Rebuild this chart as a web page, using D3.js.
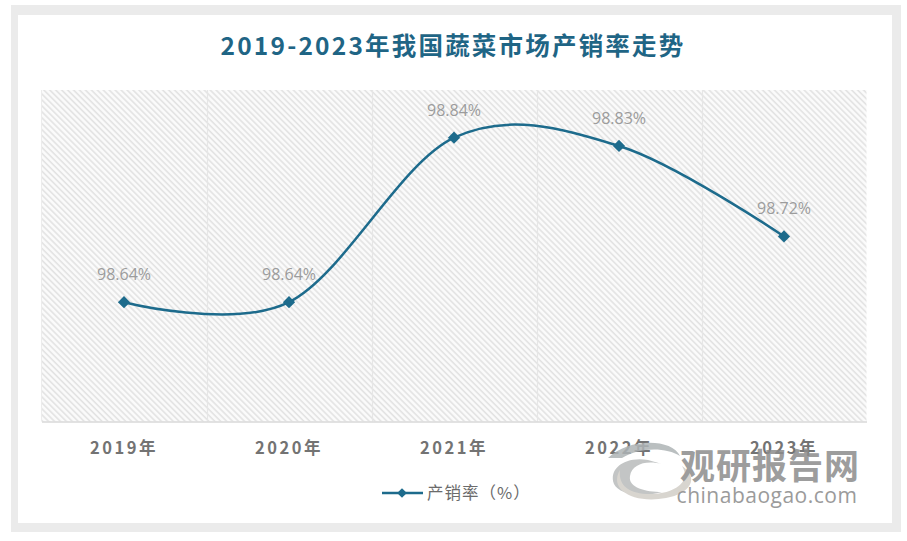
<!DOCTYPE html>
<html><head><meta charset="utf-8">
<script src="https://cdn.jsdelivr.net/npm/d3@7/dist/d3.min.js"></script>
<style>body{margin:0;background:#fff;}svg{display:block;}</style>
</head><body>
<svg id="c" width="907" height="541"></svg>
<script>
const categories = ["2019年","2020年","2021年","2022年","2023年"];
const values = [98.64, 98.64, 98.84, 98.83, 98.72];
const labels = ["98.64%","98.64%","98.84%","98.83%","98.72%"];
const title = "2019-2023年我国蔬菜市场产销率走势";
const seriesName = "产销率（%）";

const svg = d3.select("#c");
const font = "'Noto Sans CJK SC','Noto Sans',sans-serif";
const lineColor = "#1d6b8c";

// frame
svg.append("rect").attr("x",11).attr("y",5).attr("width",890).attr("height",527).attr("fill","#ebebeb");
svg.append("rect").attr("x",18).attr("y",15).attr("width",874).attr("height",508).attr("fill","#ffffff");

const defs = svg.append("defs");
const pat = defs.append("pattern").attr("id","hatch").attr("patternUnits","userSpaceOnUse")
  .attr("width",4.2).attr("height",4.2).attr("patternTransform","rotate(-45)");
pat.append("rect").attr("width",4.2).attr("height",4.2).attr("fill","#fbfbfb");
pat.append("line").attr("x1",1).attr("y1",0).attr("x2",1).attr("y2",4.2).attr("stroke","#e2e2e2").attr("stroke-width",1.6);

const plot = {left:41.5, right:866.5, top:90, bottom:421.5};
const x = d3.scaleBand().domain(categories).range([plot.left, plot.right]);
const y = d3.scaleLinear().domain([98.495, 98.898]).range([plot.bottom, plot.top]);

svg.append("rect").attr("x",plot.left).attr("y",plot.top).attr("width",plot.right-plot.left)
  .attr("height",plot.bottom-plot.top).attr("fill","url(#hatch)");

// vertical gridlines at category boundaries
svg.append("g").selectAll("line").data(categories.slice(1)).join("line")
  .attr("x1",d=>Math.round(x(d))+0.5).attr("x2",d=>Math.round(x(d))+0.5)
  .attr("y1",plot.top).attr("y2",plot.bottom).attr("stroke","#e6e6e6").attr("stroke-width",1.2);
svg.append("line").attr("x1",plot.left).attr("x2",plot.left).attr("y1",plot.top).attr("y2",plot.bottom)
  .attr("stroke","#ececec").attr("stroke-width",1);

// x axis
const xAxis = svg.append("g").attr("transform",`translate(0,${plot.bottom})`)
  .call(d3.axisBottom(x).tickSize(0).tickPadding(20));
xAxis.select(".domain").attr("stroke","#d9d9d9").attr("stroke-width",1.5);
xAxis.selectAll("text").attr("font-family",font).attr("font-size",16.5).attr("font-weight","bold")
  .attr("fill","#737373").attr("letter-spacing","2.5px").attr("dy","0.75em");

// watermark
const wm = svg.append("g").attr("opacity",0.85);
wm.append("path").attr("d","M648,460 C626,456 608,468 614,484 C619,494 640,498 662,492 C646,492 628,488 630,476 C632,464 646,460 662,464 Z").attr("fill","#b9bcbc");
wm.append("path").attr("d","M620,470 C608,490 634,504 666,498 C690,494 700,478 682,466 C692,482 674,494 650,494 C630,494 618,486 620,470 Z").attr("fill","#d2cec7");
wm.append("path").attr("d","M608,458 C628,438 672,438 680,456 C666,447 640,447 622,458 Z").attr("fill","#aeb4b6");
wm.append("text").attr("x",770).attr("y",479).attr("text-anchor","middle").attr("font-family",font)
  .attr("font-size",35).attr("font-weight","bold").attr("fill","#8c8c8c").attr("letter-spacing","1px").text("观研报告网");
wm.append("text").attr("x",767).attr("y",503).attr("text-anchor","middle").attr("font-family","'Open Sans','DejaVu Sans',sans-serif")
  .attr("font-size",21).attr("fill","#8a8a8a").attr("letter-spacing","0.5px").text("chinabaogao.com");

// line
const cx = d => x(d)+x.bandwidth()/2;
const line = d3.line().x((d,i)=>cx(categories[i])).y(d=>y(d)).curve(d3.curveCardinal.tension(0));
svg.append("path").datum(values).attr("d",line).attr("fill","none").attr("stroke",lineColor).attr("stroke-width",2.5);

const diamond = d3.symbol().type(d3.symbolDiamond2).size(95);
svg.append("g").selectAll("path").data(values).join("path")
  .attr("transform",(d,i)=>`translate(${cx(categories[i])},${y(d)})`)
  .attr("d",diamond).attr("fill",lineColor);

svg.append("g").selectAll("text").data(values).join("text")
  .attr("x",(d,i)=>cx(categories[i])).attr("y",d=>y(d)-22)
  .attr("text-anchor","middle").attr("font-family","'Open Sans','Noto Sans',sans-serif").attr("font-size",16)
  .attr("fill","#9c9c9c").text((d,i)=>labels[i]);

// title
svg.append("text").attr("x",453).attr("y",55).attr("text-anchor","middle").attr("font-family",font)
  .attr("font-size",24.5).attr("font-weight","bold").attr("fill","#1f6585").attr("letter-spacing","2.2px").text(title);

// legend
const lg = svg.append("g");
lg.append("line").attr("x1",382).attr("x2",423).attr("y1",493).attr("y2",493).attr("stroke",lineColor).attr("stroke-width",2.5);
lg.append("path").attr("transform","translate(402,493)").attr("d",d3.symbol().type(d3.symbolDiamond2).size(60)).attr("fill",lineColor);
lg.append("text").attr("x",427).attr("y",499).attr("font-family",font).attr("font-size",16.5).attr("fill","#6b6b6b").attr("letter-spacing","1px").text(seriesName);
</script>
</body></html>
